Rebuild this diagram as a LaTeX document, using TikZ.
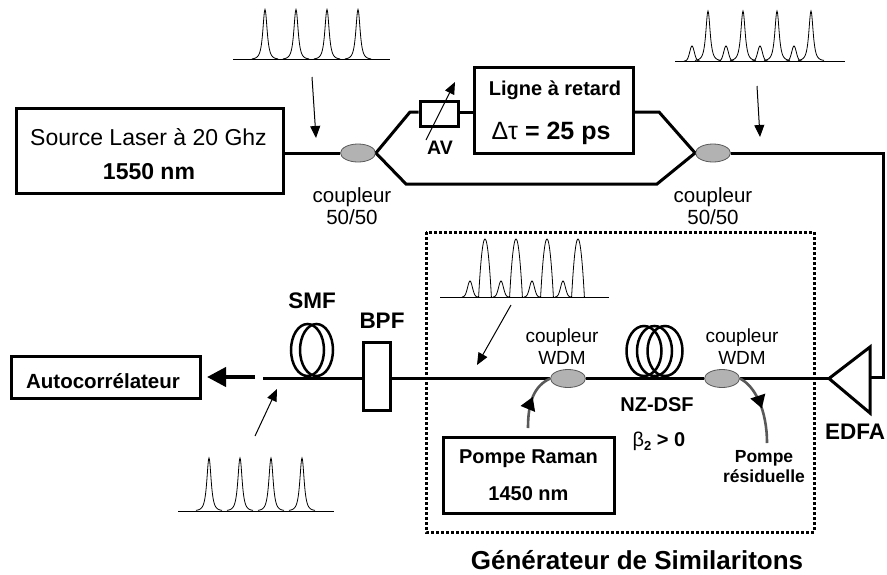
\documentclass[tikz,border=0pt]{standalone}
\usepackage{fontspec}
\setmainfont{Liberation Sans}
\usepackage{tikz}
\usetikzlibrary{positioning, arrows.meta, shapes.geometric, decorations.markings}
\definecolor{coupleurgris}{HTML}{B2B2B2}
\definecolor{pompegris}{HTML}{595959}
\newcommand{\trainfin}[5]{%
  \draw[impulsion] (#1,#3) -- (#2,#3);
  \foreach \xp in {#4}
    \draw[impulsion] plot[domain=-13:13,samples=53,smooth] ({\xp+\x},{#3-#5/(1+(\x/3.4)^2)^1.6});
}
\begin{document}
\begin{tikzpicture}[
    x=1pt, y=-1pt,
    every node/.style={font=\fontsize{20}{22}\selectfont, inner sep=0pt},
    boite/.style={draw, line width=3pt, align=center},
    coupleur/.style={ellipse, draw=black!65, fill=coupleurgris, line width=0.8pt,
        minimum width=35pt, minimum height=18pt},
    spire/.style={ellipse, draw, line width=2.5pt},
    fibre/.style={line width=3pt},
    impulsion/.style={line width=0.8pt},
    renvoi/.style={-{Triangle[length=12pt, width=10pt]}, line width=1pt},
    pompe/.style={line width=2.6pt, color=pompegris},
    etiquette/.style={font=\fontsize{19}{21}\selectfont, align=center}
]
\useasboundingbox (0,0) rectangle (887,574);

\node[boite, minimum width=267pt, minimum height=85pt] (source) at (149.5,150.5) {};
\node[font=\fontsize{23}{25}\selectfont] (sourceA) at (148.5,137) {Source Laser à 20 Ghz};
\node[font=\fontsize{23}{25}\selectfont\bfseries] (sourceB) at (149,172) {1550 nm};
\node[boite, minimum width=38pt, minimum height=25pt] (av) at (439,113.5) {};
\node[boite, minimum width=159pt, minimum height=86pt] (ligne) at (553.5,110) {};
\node[font=\fontsize{20}{22}\selectfont\bfseries] (ligneA) at (555,90) {Ligne à retard};
\node[font=\fontsize{25}{27}\selectfont] (ligneB) at (551,133) {Δτ \bfseries = 25 ps};
\node[coupleur] (cA) at (358,153) {};
\node[coupleur] (cB) at (713,153) {};
\node[coupleur] (wdmA) at (568,378.5) {};
\node[coupleur] (wdmB) at (722,378.5) {};
\node[boite, minimum width=171pt, minimum height=76pt] (raman) at (528.5,475) {};
\node[font=\fontsize{20}{22}\selectfont\bfseries] (ramanA) at (528.5,459) {Pompe Raman};
\node[font=\fontsize{20}{22}\selectfont\bfseries] (ramanB) at (528.5,494) {1450 nm};
\node[boite, minimum width=27pt, minimum height=68pt] (bpf) at (376.5,376) {};
\node[boite, minimum width=189pt, minimum height=42pt] (autoc) at (105.5,377) {};
\node[font=\fontsize{20.5}{22}\selectfont\bfseries] (autoct) at (103,381) {Autocorrélateur};

\coordinate (hautA) at (410,112);
\coordinate (basA) at (406,184);
\coordinate (hautB) at (659,112);
\coordinate (basB) at (657,184);
\coordinate (coin) at (883,153);
\coordinate (sortie) at (263,378.5);
\coordinate (flecheA) at (255,377);
\coordinate (flecheB) at (207,377);
\coordinate (edfaP) at (829,378.5);
\coordinate (edfaH) at (870,347);
\coordinate (edfaB) at (870,413);
\coordinate (edfaM) at (870,377);
\coordinate (ramanF) at (528,428);
\coordinate (residF) at (767,443);

\draw[fibre] (source.east |- cA.west) -- (cA.west);
\draw[fibre, line join=round] (cA.east) -- (hautA) -- (av.west |- hautA);
\draw[fibre] (av.east |- hautA) -- (ligne.west |- hautA);
\draw[fibre] (ligne.east |- hautB) -- (hautB) -- (cB.west);
\draw[fibre] (cA.east) -- (basA) -- (basB) -- (cB.west);
\draw[fibre] (cB.east) -- (coin) -- (coin |- edfaM) -- (edfaM);
\draw[fibre] (edfaP) -- (wdmB.east);
\draw[fibre] (wdmB.west) -- (wdmA.east);
\draw[fibre] (wdmA.west) -- (bpf.east |- wdmA.west);
\draw[fibre] (bpf.west |- sortie) -- (sortie);
\draw[line width=3pt, line join=miter] (edfaP) -- (edfaH) -- (edfaB) -- cycle;
\draw[-{Triangle[length=19pt, width=19pt]}, line width=4pt] (flecheA) -- (flecheB);

\node[spire, minimum width=33pt, minimum height=52pt] (smfA) at (307.5,350) {};
\node[spire, minimum width=33pt, minimum height=52pt] (smfB) at (316.5,350) {};
\node[spire, minimum width=35pt, minimum height=50pt] (nzA) at (644,351) {};
\node[spire, minimum width=35pt, minimum height=50pt] (nzB) at (654.5,351) {};
\node[spire, minimum width=35pt, minimum height=50pt] (nzC) at (665,351) {};

\draw[pompe, postaction={decorate}, decoration={markings,
        mark=at position 0.55 with {\arrow[color=black]{Triangle[length=13pt, width=15pt]}}}]
    (ramanF) .. controls (528,402) and (534,386) .. (wdmA.west);
\draw[pompe, postaction={decorate}, decoration={markings,
        mark=at position 0.52 with {\arrow[color=black]{Triangle[length=13pt, width=15pt]}}}]
    (wdmB.east) .. controls (755,386) and (767,410) .. (residF);

\draw[line width=3pt, dash pattern=on 2.6pt off 2.4pt] (426,232) rectangle (814,532);

\trainfin{233}{390}{59.5}{265,296,327,358}{50}
\trainfin{178}{334}{511}{209,240,271,302}{53}
\trainfin{675}{845}{61}{708,743,777,811}{50}
\foreach \xp in {692,726,760,794}
    \draw[impulsion] plot[domain=-8:8,samples=25,smooth] ({\xp+\x},{61-15*exp(-(\x/3.2)^2)});

\draw[impulsion] (440,297) -- (609,297);
\foreach \xp in {485,516,547,578}
    \draw[impulsion] plot[domain=-6.4:6.4,samples=25,smooth] ({\xp+\x},{297-58*(1-(\x/6.4)^2)});
\foreach \xp in {470,501,532,563}
    \draw[impulsion] plot[domain=-8:8,samples=25,smooth] ({\xp+\x},{297-16*exp(-(\x/3.4)^2)});

\coordinate (rA) at (312,77);
\coordinate (rB) at (316,138);
\coordinate (rC) at (757,86);
\coordinate (rD) at (760,137);
\coordinate (rE) at (511,305);
\coordinate (rF) at (477,365);
\coordinate (rG) at (255,436);
\coordinate (rH) at (277,389);
\coordinate (rI) at (426,140);
\coordinate (rJ) at (455,82);
\draw[renvoi] (rA) -- (rB);
\draw[renvoi] (rC) -- (rD);
\draw[renvoi] (rE) -- (rF);
\draw[renvoi] (rG) -- (rH);
\draw[renvoi] (rI) -- (rJ);

\node[etiquette, font=\fontsize{20.5}{22}\selectfont] (lbA) at (352,206) {coupleur\\[0pt]50/50};
\node[etiquette, font=\fontsize{20.5}{22}\selectfont] (lbB) at (713,206) {coupleur\\[0pt]50/50};
\node[etiquette] (lbC) at (562,346.5) {coupleur\\[1pt]WDM};
\node[etiquette] (lbD) at (742,346.5) {coupleur\\[1pt]WDM};
\node[font=\fontsize{19.5}{21}\selectfont\bfseries] (lbAV) at (440,148) {AV};
\node[font=\fontsize{22.5}{24}\selectfont\bfseries] (lbS) at (312,301) {SMF};
\node[font=\fontsize{22.5}{24}\selectfont\bfseries] (lbF) at (382,321) {BPF};
\node[font=\fontsize{20}{22}\selectfont\bfseries] (lbN) at (657,405) {NZ-DSF};
\node[font=\fontsize{20}{22}\selectfont] (lbB2) at (659,441)
    {β\raisebox{-4pt}{\fontsize{13}{14}\selectfont\bfseries 2} \bfseries > 0};
\node[font=\fontsize{17.5}{19.5}\selectfont\bfseries, align=center] (lbR) at (764,466.5) {Pompe\\résiduelle};
\node[font=\fontsize{22.5}{24}\selectfont\bfseries] (lbE) at (855,432) {EDFA};
\node[font=\fontsize{26}{28}\selectfont\bfseries] (lbG) at (637,560) {Générateur de Similaritons};
\end{tikzpicture}
\end{document}
